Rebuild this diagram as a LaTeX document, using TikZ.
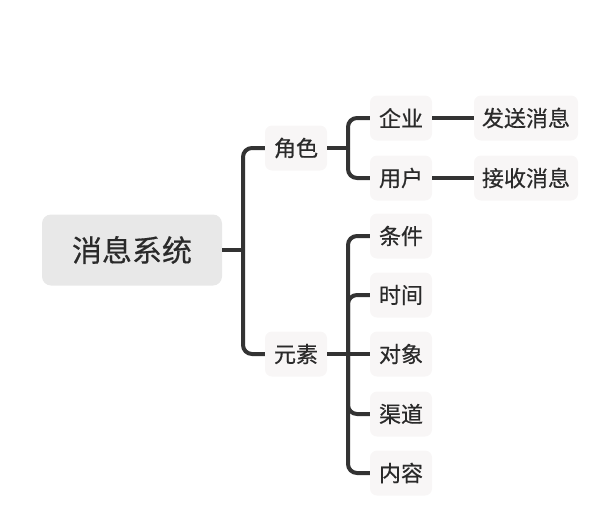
\documentclass[tikz,border=0pt]{standalone}
\usepackage{fontspec}
\setmainfont{Noto Sans CJK SC}
\newfontfamily\medfont{Noto Sans CJK SC}[FakeBold=0.5]
\begin{document}
\begin{tikzpicture}[x=1pt,y=-1pt,
  rootbox/.style={fill=rootgray,rounded corners=9pt,minimum width=180pt,minimum height=71pt,font=\medfont\fontsize{30}{34}\selectfont,text=txt},
  leafbox/.style={fill=leafgray,rounded corners=7pt,minimum width=62pt,minimum height=45pt,font=\medfont\fontsize{22}{26}\selectfont,text=txt,inner sep=2pt},
  widebox/.style={leafbox,minimum width=104pt},
  conn/.style={draw=linec,line width=4pt,rounded corners=9pt}]
\definecolor{rootgray}{HTML}{E8E8E8}
\definecolor{leafgray}{HTML}{F8F6F6}
\definecolor{txt}{HTML}{2A2A2A}
\definecolor{linec}{HTML}{333333}
\useasboundingbox (0,0) rectangle (589,509);
\node[rootbox] (root) at (132,250) {消息系统};
\node[leafbox] (role) at (296,148) {角色};
\node[leafbox] (elem) at (296,354) {元素};
\node[leafbox] (qy) at (401,118) {企业};
\node[leafbox] (yh) at (401,178) {用户};
\node[widebox] (fs) at (526,118) {发送消息};
\node[widebox] (js) at (526,178) {接收消息};
\node[leafbox] (tj) at (401,236) {条件};
\node[leafbox] (sj) at (401,295) {时间};
\node[leafbox] (dx) at (401,354) {对象};
\node[leafbox] (qd) at (401,414) {渠道};
\node[leafbox] (nr) at (401,473) {内容};
\coordinate (j1) at (243,250);
\coordinate (j2) at (348,148);
\coordinate (j3) at (348,354);
\draw[conn] (root.east) -- (j1);
\draw[conn] (j1) |- (role.west);
\draw[conn] (j1) |- (elem.west);
\draw[conn] (role.east) -- (j2);
\draw[conn] (j2) |- (qy.west);
\draw[conn] (j2) |- (yh.west);
\draw[conn] (qy.east) -- (fs.west);
\draw[conn] (yh.east) -- (js.west);
\draw[conn] (elem.east) -- (dx.west);
\draw[conn] (j3) |- (tj.west);
\draw[conn] (j3) |- (sj.west);
\draw[conn] (j3) |- (qd.west);
\draw[conn] (j3) |- (nr.west);
\end{tikzpicture}
\end{document}
